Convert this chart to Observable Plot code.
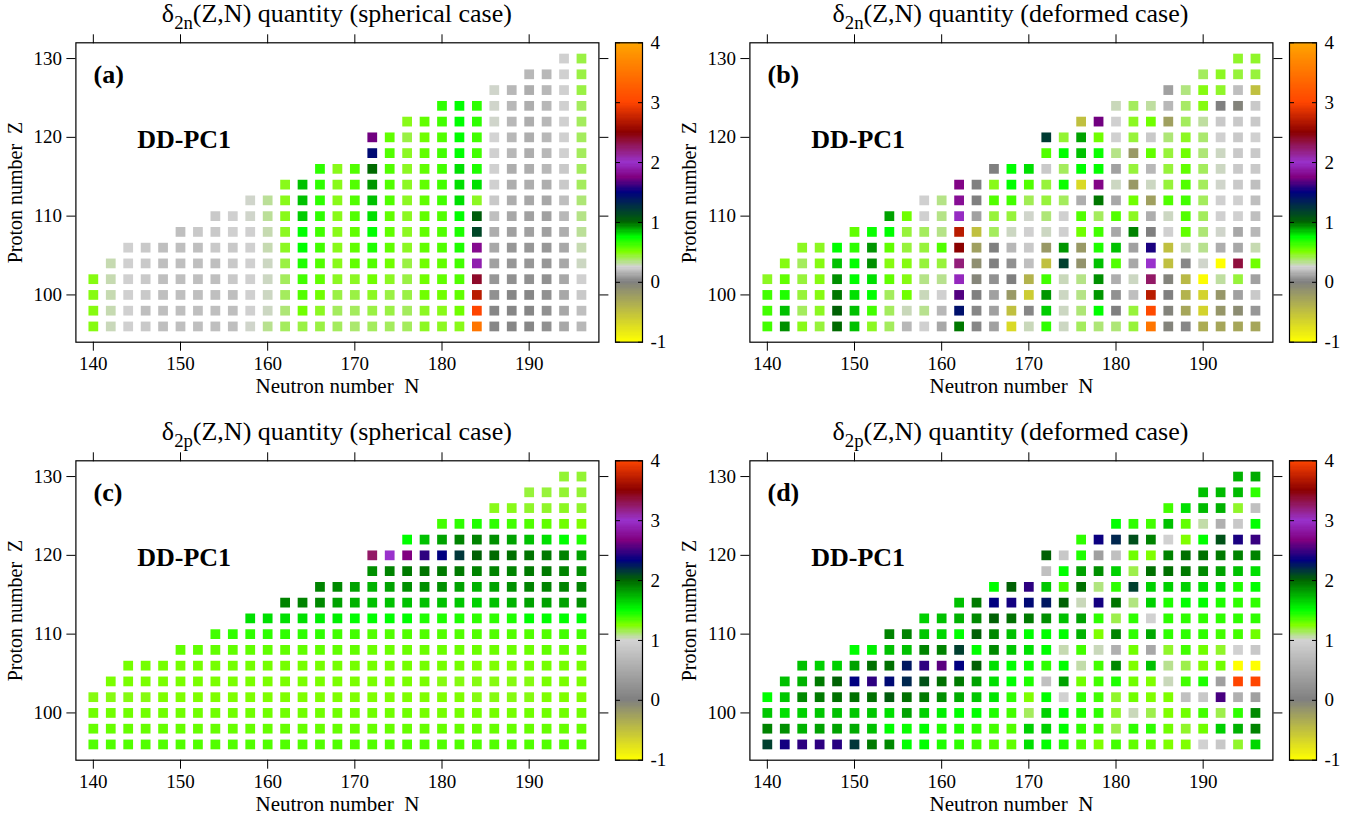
<!DOCTYPE html>
<html><head><meta charset="utf-8">
<script src="https://cdn.jsdelivr.net/npm/d3@7"></script>
<script src="https://cdn.jsdelivr.net/npm/@observablehq/plot@0.6"></script>
<style>
body{margin:0;background:#fff;}
#root{position:relative;width:1361px;height:827px;overflow:hidden;font-family:"Liberation Serif","Times New Roman",serif;color:#000;background:#fff;}
.title{position:absolute;width:600px;text-align:center;font-size:26px;line-height:28px;white-space:nowrap;}
.title sub{font-size:0.72em;vertical-align:-0.38em;line-height:0;}
.abs{position:absolute;}
</style></head><body><div id="root"></div>
<script>
// ---- data ----
const protonNumbers = [96,98,100,102,104,106,108,110,112,114,116,118,120,122,124,126,128,130];
const neutronMax = 196;           // every row ends at N = 196, step 2
const xTickValues = [140,150,160,170,180,190];
const yTickValues = [100,110,120,130];
const cbTickValues = [-1,0,1,2,3,4];
const panelTitles = [
  ["δ","2n","(Z,N) quantity (spherical case)"],
  ["δ","2n","(Z,N) quantity (deformed case)"],
  ["δ","2p","(Z,N) quantity (spherical case)"],
  ["δ","2p","(Z,N) quantity (deformed case)"]
];
const panelTags = ["(a)","(b)","(c)","(d)"];
const modelName = "DD-PC1";

// colour palettes (gnuplot-like)
const upperStops  = [-1,0,0.25,0.5,0.75,1.0,1.5,1.75,2.0,2.5,3.0,4.0];
const upperColors = ["#ffff00","#808080","#d3d3d3","#7fff00","#00ff00","#006400","#000080","#800080","#9932cc","#8b0000","#ff4500","#ffa500"];
const lowerStops  = [-1,0,1,1.25,1.5,2.0,2.33,2.67,3.0,3.5,4.0];
const lowerColors = ["#ffff00","#808080","#d3d3d3","#7fff00","#00ff00","#006400","#000080","#800080","#9932cc","#8b0000","#ff4500"];

// rows for Z = 96 ... 130 ; each row lists N from its first nucleus up to N = 196
const delta2nSpherical = [
  [0.48,0.28,0.24,0.22,0.19,0.19,0.19,0.19,0.19,0.26,0.33,0.39,0.42,0.42,0.39,0.37,0.39,0.39,0.39,0.46,0.46,0.47,3.5,0.02,0.02,0.02,0.05,0.12,0.17],
  [0.48,0.29,0.24,0.19,0.19,0.19,0.19,0.19,0.19,0.24,0.27,0.36,0.53,0.46,0.39,0.39,0.42,0.42,0.39,0.46,0.47,0.53,3.0,0.02,0.02,0.02,0.05,0.12,0.19],
  [0.48,0.29,0.24,0.22,0.19,0.19,0.19,0.19,0.19,0.24,0.27,0.39,0.59,0.53,0.42,0.42,0.46,0.42,0.42,0.53,0.53,0.56,2.7,0.05,0.02,0.02,0.05,0.12,0.22],
  [0.48,0.29,0.24,0.22,0.19,0.19,0.19,0.19,0.22,0.24,0.27,0.39,0.62,0.56,0.46,0.46,0.53,0.46,0.42,0.53,0.56,0.59,2.4,0.07,0.05,0.05,0.05,0.12,0.24],
  [0.29,0.24,0.22,0.19,0.19,0.19,0.19,0.22,0.24,0.27,0.42,0.69,0.59,0.47,0.56,0.59,0.53,0.42,0.53,0.56,0.62,1.9,0.1,0.07,0.07,0.07,0.12,0.27],
  [0.24,0.22,0.19,0.19,0.19,0.22,0.22,0.24,0.29,0.46,0.75,0.62,0.47,0.56,0.69,0.56,0.46,0.56,0.59,0.69,1.8,0.12,0.07,0.07,0.07,0.12,0.29],
  [0.19,0.22,0.22,0.24,0.24,0.29,0.46,0.75,0.62,0.47,0.56,0.75,0.56,0.46,0.56,0.59,0.69,1.15,0.14,0.1,0.1,0.1,0.14,0.32],
  [0.22,0.24,0.26,0.32,0.47,0.83,0.66,0.47,0.59,0.8,0.56,0.46,0.56,0.59,0.75,1.04,0.19,0.12,0.1,0.1,0.17,0.34],
  [0.26,0.32,0.47,0.85,0.66,0.47,0.59,0.85,0.59,0.46,0.56,0.62,0.8,0.46,0.22,0.14,0.12,0.12,0.19,0.36],
  [0.47,0.85,0.66,0.47,0.59,0.92,0.59,0.46,0.56,0.62,0.8,0.8,0.24,0.14,0.14,0.14,0.22,0.39],
  [0.66,0.47,0.59,0.99,0.59,0.46,0.56,0.62,0.8,0.69,0.24,0.14,0.14,0.17,0.22,0.39],
  [1.45,0.59,0.46,0.56,0.62,0.75,0.62,0.24,0.17,0.14,0.17,0.24,0.39],
  [1.72,0.56,0.42,0.53,0.59,0.75,0.62,0.25,0.17,0.14,0.17,0.24,0.39],
  [0.47,0.56,0.62,0.75,0.66,0.26,0.17,0.14,0.17,0.24,0.39],
  [0.66,0.75,0.66,0.26,0.17,0.14,0.17,0.24,0.39],
  [0.26,0.17,0.14,0.17,0.24,0.42],
  [0.17,0.17,0.24,0.42],
  [0.24,0.42]
];
const delta2nDeformed = [
  [0.62,0.93,0.47,0.43,0.99,0.85,0.46,0.39,0.17,0.24,0.12,0.97,0.02,0.1,-0.7,0.28,0.66,0.27,0.39,0.36,0.36,0.43,3.5,-0.03,0.02,-0.35,-0.3,-0.3,-0.3],
  [0.62,0.85,0.39,0.46,1.02,0.85,0.62,0.39,0.28,0.33,0.17,1.42,0.02,0.1,-0.5,0.02,0.83,0.27,0.36,0.75,0.0,0.43,3.05,-0.03,-0.3,-0.65,-0.18,-0.1,0.07],
  [0.62,0.69,0.43,0.48,0.97,0.8,0.75,0.39,0.53,0.28,0.24,1.66,0.0,0.1,-0.2,-0.6,0.92,0.27,0.34,0.92,0.05,0.19,2.7,0.0,-0.4,-0.65,-0.18,0.1,0.22],
  [0.46,0.56,0.43,0.48,0.93,0.75,0.8,0.56,0.48,0.34,0.33,1.95,-0.05,0.05,0.0,-0.4,0.62,0.28,0.34,0.93,0.14,0.27,2.25,-0.03,-0.45,-0.98,0.31,0.43,0.1],
  [0.48,0.39,0.48,0.85,0.75,0.93,0.48,0.48,0.43,0.43,2.2,-0.12,0.0,0.05,0.19,-0.5,1.18,-0.15,0.85,0.59,0.12,2.0,-0.5,0.02,0.26,-1.0,2.35,0.53],
  [0.46,0.46,0.75,0.66,0.92,0.56,0.43,0.43,0.59,2.5,-0.25,0.0,0.17,0.22,-0.2,0.92,-0.2,0.69,0.85,0.1,1.55,-0.5,0.29,0.33,0.14,0.12,0.29],
  [0.56,0.73,0.75,0.43,0.39,0.34,2.7,-0.5,0.39,0.27,0.24,0.27,0.24,0.53,0.62,0.12,0.95,0.0,0.24,0.56,0.36,0.26,0.12,0.17],
  [0.9,0.53,0.24,0.34,1.97,0.1,0.43,0.43,0.26,0.36,0.24,0.59,0.39,0.59,0.46,0.14,0.27,0.59,0.39,0.24,0.24,0.19],
  [0.24,0.34,1.82,0.0,0.59,0.62,0.4,0.43,0.39,0.14,0.97,0.12,0.53,-0.25,0.59,0.62,0.39,0.24,0.24,0.19],
  [1.77,0.0,0.47,0.75,0.59,0.43,0.73,-0.7,1.77,0.27,-0.2,0.27,0.43,0.59,0.39,0.26,0.22,0.19],
  [0.0,0.75,0.8,0.22,0.39,0.75,0.74,0.1,0.43,0.17,0.43,0.56,0.39,0.27,0.22,0.22],
  [0.59,0.75,0.85,0.73,0.34,-0.2,0.56,0.43,0.53,0.36,0.27,0.22,0.22],
  [1.2,0.44,0.9,0.53,0.24,0.43,0.22,0.36,0.46,0.37,0.24,0.22,0.24],
  [-0.5,1.72,0.24,0.46,0.53,-0.25,0.39,0.31,0.22,0.22,0.22],
  [0.28,0.39,0.31,0.17,0.38,0.48,0.0,-0.03,0.22],
  [0.1,0.35,0.48,0.45,0.19,-0.5],
  [0.39,0.46,0.43,0.43],
  [0.45,0.45]
];
const delta2pSpherical = [
  [1.34,1.34,1.34,1.34,1.34,1.34,1.34,1.34,1.34,1.34,1.34,1.34,1.34,1.34,1.34,1.34,1.34,1.34,1.34,1.34,1.34,1.34,1.34,1.34,1.34,1.34,1.34,1.34,1.34],
  [1.3,1.3,1.3,1.3,1.3,1.3,1.3,1.3,1.3,1.3,1.3,1.3,1.3,1.3,1.3,1.3,1.3,1.3,1.3,1.3,1.3,1.3,1.3,1.3,1.3,1.3,1.3,1.3,1.3],
  [1.28,1.28,1.28,1.28,1.28,1.28,1.28,1.28,1.28,1.28,1.28,1.28,1.28,1.28,1.28,1.28,1.28,1.28,1.28,1.27,1.27,1.27,1.27,1.27,1.27,1.28,1.28,1.28,1.28],
  [1.23,1.23,1.23,1.23,1.25,1.25,1.25,1.25,1.25,1.25,1.25,1.25,1.25,1.25,1.25,1.25,1.25,1.25,1.25,1.25,1.25,1.25,1.23,1.23,1.23,1.23,1.25,1.25,1.25],
  [1.26,1.26,1.26,1.26,1.26,1.26,1.26,1.26,1.26,1.26,1.26,1.26,1.26,1.26,1.26,1.26,1.26,1.26,1.26,1.23,1.23,1.23,1.23,1.23,1.23,1.26,1.26,1.26],
  [1.27,1.27,1.27,1.27,1.27,1.27,1.27,1.27,1.27,1.27,1.27,1.27,1.27,1.27,1.27,1.27,1.27,1.27,1.27,1.27,1.25,1.25,1.25,1.27,1.27,1.27,1.27],
  [1.31,1.31,1.31,1.31,1.31,1.31,1.31,1.31,1.31,1.31,1.31,1.29,1.29,1.29,1.29,1.29,1.29,1.29,1.29,1.29,1.29,1.31,1.31,1.31],
  [1.37,1.41,1.41,1.41,1.41,1.41,1.41,1.37,1.37,1.34,1.34,1.34,1.34,1.34,1.34,1.34,1.34,1.34,1.34,1.34,1.37,1.37],
  [1.6,1.6,1.6,1.6,1.55,1.55,1.5,1.5,1.5,1.5,1.44,1.44,1.44,1.41,1.41,1.44,1.5,1.5,1.5,1.5],
  [1.9,1.9,1.88,1.8,1.75,1.7,1.7,1.7,1.7,1.7,1.68,1.65,1.7,1.75,1.8,1.8,1.8,1.86],
  [1.9,1.88,1.8,1.75,1.8,1.86,1.86,1.86,1.8,1.75,1.8,1.86,1.9,1.9,1.9,1.9],
  [1.86,1.9,1.93,1.95,1.93,1.93,1.9,1.9,1.9,1.93,1.93,1.9,1.86],
  [3.25,3.0,2.67,2.45,2.33,2.15,2.01,1.98,1.96,1.95,1.93,1.9,1.8],
  [1.5,1.7,1.8,1.9,1.9,1.86,1.8,1.7,1.6,1.5,1.44],
  [1.37,1.41,1.44,1.41,1.37,1.34,1.31,1.28,1.25],
  [1.22,1.22,1.2,1.2,1.21,1.2],
  [1.18,1.18,1.19,1.19],
  [1.19,1.19]
];
const delta2pDeformed = [
  [2.12,2.38,2.45,2.45,2.43,2.15,1.93,1.88,1.5,1.5,1.44,1.41,1.37,1.34,1.31,1.6,1.5,1.44,1.34,1.25,1.37,1.31,1.31,1.25,1.25,0.97,0.87,1.2,1.63],
  [1.9,1.86,1.75,1.8,1.8,1.77,1.7,1.5,1.48,1.5,1.44,1.44,1.41,1.37,1.34,1.65,1.65,1.5,1.41,1.37,1.16,1.41,1.41,1.28,1.2,1.28,1.65,1.75,1.9],
  [1.68,1.6,1.65,1.68,1.7,1.68,1.68,1.6,1.8,1.65,1.55,1.5,1.5,1.44,1.37,1.14,1.65,1.5,1.44,1.41,1.2,1.03,1.16,1.25,1.28,1.37,1.16,1.41,1.88],
  [1.5,1.68,1.88,1.93,1.96,1.96,1.96,2.03,1.96,1.93,1.86,1.77,1.68,1.58,1.41,1.25,1.5,0.97,1.41,1.37,1.2,1.28,1.25,1.25,0.77,0.87,2.52,0.58,0.39],
  [1.7,1.75,1.93,2.01,2.33,2.45,2.3,2.2,2.06,1.96,1.93,1.8,1.6,1.5,1.44,0.77,1.8,1.28,1.37,1.44,1.28,1.25,1.03,1.37,1.44,0.39,4.0,4.0],
  [1.7,1.65,1.65,1.8,1.96,1.96,2.25,2.45,2.57,2.33,2.01,1.6,1.5,1.48,1.41,1.5,1.05,1.37,1.88,1.25,1.7,1.08,1.16,1.25,1.28,-1.0,-1.0],
  [1.5,1.55,1.7,1.7,1.9,1.9,2.12,1.5,1.88,1.68,1.6,1.5,1.04,1.37,1.03,0.58,1.28,0.48,1.2,1.37,1.28,1.2,0.97,0.87],
  [1.9,1.9,1.68,1.63,1.5,2.01,1.88,1.7,1.5,1.5,1.5,1.75,1.25,1.9,1.41,1.78,1.41,1.41,1.41,1.37,1.37,1.28],
  [1.65,1.7,1.75,1.88,2.01,1.96,1.93,1.86,1.7,1.8,1.41,1.16,1.41,0.97,1.41,1.41,1.41,1.41,1.41,1.41],
  [1.7,1.93,2.33,2.38,2.3,2.25,2.01,1.03,2.38,1.95,1.1,1.65,1.44,1.5,1.5,1.44,1.41,1.41],
  [1.5,2.01,2.45,1.68,1.37,1.96,1.1,1.41,2.12,1.65,1.65,1.65,1.6,1.6,1.44,1.5],
  [0.77,1.5,1.8,1.86,1.65,1.16,1.96,1.96,1.93,1.88,1.8,1.7,1.6],
  [2.01,0.87,1.44,0.39,0.77,1.28,1.25,1.9,1.96,1.96,1.93,1.9,1.9],
  [1.41,2.36,2.2,2.07,1.9,0.97,1.25,1.5,2.06,2.4,2.48],
  [1.5,1.41,1.37,1.7,1.31,1.05,0.58,0.87,1.5],
  [1.37,1.6,1.72,1.75,1.2,0.77],
  [1.7,1.72,1.72,1.41],
  [1.75,1.77]
];

// ---- layout ----
const PANEL_DX = 673.6, PANEL_DY = 418.4;
const SVG_TOP = 30, SVG_W = 612, SVG_H = 386;
const M_LEFT = 75.4, M_RIGHT = 13.6, M_TOP = 12.3, M_BOTTOM = 74.3;
const FONT = "Liberation Serif, Times New Roman, serif";

function makeCells(rows) {
  const cells = [];
  rows.forEach((row, i) => {
    const Z = protonNumbers[i];
    row.forEach((v, j) => cells.push({N: neutronMax - 2 * (row.length - 1 - j), Z, v}));
  });
  return cells;
}

const panels = [
  {rows: delta2nSpherical, stops: upperStops, colors: upperColors, col: 0, row: 0},
  {rows: delta2nDeformed,  stops: upperStops, colors: upperColors, col: 1, row: 0},
  {rows: delta2pSpherical, stops: lowerStops, colors: lowerColors, col: 0, row: 1},
  {rows: delta2pDeformed,  stops: lowerStops, colors: lowerColors, col: 1, row: 1}
];

const root = document.getElementById("root");

panels.forEach((p, k) => {
  const ox = p.col * PANEL_DX, oy = p.row * PANEL_DY;
  const colorScale = {type: "linear", domain: p.stops, range: p.colors, interpolate: "rgb", clamp: true};

  // title
  const t = document.createElement("div");
  t.className = "title";
  t.style.left = (ox + M_LEFT + (SVG_W - M_LEFT - M_RIGHT) / 2 - 300) + "px";
  t.style.top = (oy + 0) + "px";
  const [g, s, rest] = panelTitles[k];
  t.innerHTML = `${g}<sub>${s}</sub>${rest}`;
  root.appendChild(t);

  // main panel
  const chart = Plot.plot({
    width: SVG_W, height: SVG_H,
    marginLeft: M_LEFT, marginRight: M_RIGHT, marginTop: M_TOP, marginBottom: M_BOTTOM,
    x: {domain: [138, 198]},
    y: {domain: [94, 132]},
    color: colorScale,
    style: {fontFamily: FONT, fontSize: "19px", color: "black", background: "transparent", overflow: "visible"},
    marks: [
      Plot.dot(makeCells(p.rows), {x: "N", y: "Z", fill: "v", symbol: "square", r: 5.5}),
      Plot.frame({stroke: "black", strokeWidth: 1.2}),
      Plot.axisX({ticks: xTickValues, tickSize: 9, tickPadding: 5, tickFormat: d => String(d), label: null}),
      Plot.axisX({anchor: "top", ticks: xTickValues, tickSize: 9, tickFormat: () => "", label: null}),
      Plot.axisY({ticks: yTickValues, tickSize: 9, tickPadding: 5, tickFormat: d => String(d), label: null}),
      Plot.axisY({anchor: "right", ticks: yTickValues, tickSize: 9, tickFormat: () => "", label: null}),
      Plot.text(["Neutron number\u00a0 N"], {frameAnchor: "bottom", dy: 44.5, textAnchor: "middle", lineAnchor: "middle", fontSize: 21}),
      Plot.text(["Proton number\u00a0 Z"], {frameAnchor: "left", dx: -60, rotate: -90, textAnchor: "middle", lineAnchor: "middle", fontSize: 20}),
      Plot.text([panelTags[k]], {frameAnchor: "top-left", dx: 17.6, dy: 31.4, textAnchor: "start", lineAnchor: "middle", fontSize: 26, fontWeight: "bold"}),
      Plot.text([modelName], {frameAnchor: "top-left", dx: 61.3, dy: 96.4, textAnchor: "start", lineAnchor: "middle", fontSize: 26, fontWeight: "bold"})
    ]
  });
  chart.classList.add("abs");
  chart.style.left = ox + "px";
  chart.style.top = (oy + SVG_TOP) + "px";
  root.appendChild(chart);

  // colour bar
  const bands = d3.range(-1, 4, 0.02).map(v => ({lo: v, hi: Math.min(4, v + 0.045), c: v + 0.01}));
  const cb = Plot.plot({
    width: 70, height: SVG_H,
    marginLeft: 1, marginRight: 42, marginTop: M_TOP, marginBottom: M_BOTTOM,
    y: {domain: [-1, 4]},
    color: colorScale,
    style: {fontFamily: FONT, fontSize: "19px", color: "black", background: "transparent", overflow: "visible"},
    marks: [
      Plot.barY(bands, {y1: "lo", y2: "hi", fill: "c", shapeRendering: "crispEdges"}),
      Plot.frame({stroke: "black", strokeWidth: 1.2}),
      Plot.axisY({anchor: "left", ticks: cbTickValues, tickSize: -5, tickFormat: () => "", label: null}),
      Plot.axisY({anchor: "right", ticks: cbTickValues, tickSize: -5, tickPadding: 13, tickFormat: d => String(d), label: null})
    ]
  });
  cb.classList.add("abs");
  cb.style.left = (ox + 614) + "px";
  cb.style.top = (oy + SVG_TOP) + "px";
  root.appendChild(cb);
});
</script>
</body></html>
